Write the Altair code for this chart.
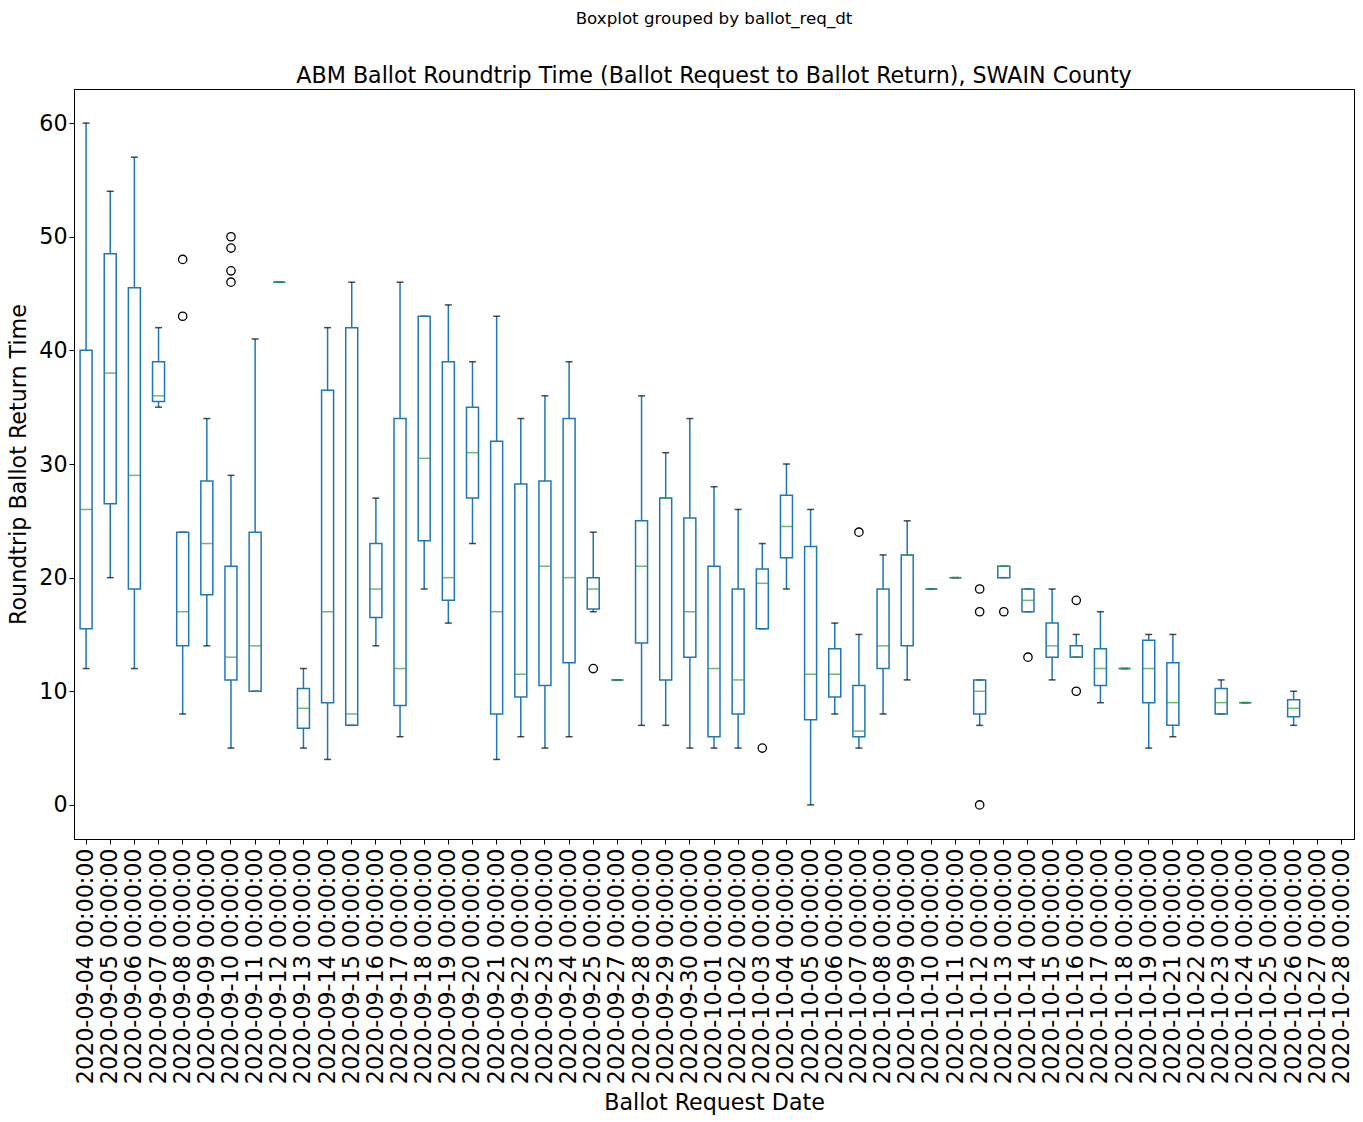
import altair as alt
import pandas as pd

dates = ["2020-09-04", "2020-09-05", "2020-09-06", "2020-09-07", "2020-09-08", "2020-09-09",
         "2020-09-10", "2020-09-11", "2020-09-12", "2020-09-13", "2020-09-14", "2020-09-15",
         "2020-09-16", "2020-09-17", "2020-09-18", "2020-09-19", "2020-09-20", "2020-09-21",
         "2020-09-22", "2020-09-23", "2020-09-24", "2020-09-25", "2020-09-27", "2020-09-28",
         "2020-09-29", "2020-09-30", "2020-10-01", "2020-10-02", "2020-10-03", "2020-10-04",
         "2020-10-05", "2020-10-06", "2020-10-07", "2020-10-08", "2020-10-09", "2020-10-10",
         "2020-10-11", "2020-10-12", "2020-10-13", "2020-10-14", "2020-10-15", "2020-10-16",
         "2020-10-17", "2020-10-18", "2020-10-19", "2020-10-21", "2020-10-22", "2020-10-23",
         "2020-10-24", "2020-10-25", "2020-10-26", "2020-10-27", "2020-10-28"]

whislo = [12, 20, 12, 35, 8, 14, 5, 10, 46, 5, 4, 7, 14, 6, 19, 16, 23, 4, 6, 5, 6, 17, 11, 7,
          7, 5, 5, 5, 15.5, 19, 0, 8, 5, 8, 11, 19, 20, 7, 20, 17, 11, 13, 9, 12, 5, 6, None, 8,
          9, None, 7, None, None]
q1 = [15.5, 26.5, 19, 35.5, 14, 18.5, 11, 10, 46, 6.75, 9, 7, 16.5, 8.75, 23.25, 18, 27, 8, 9.5,
      10.5, 12.5, 17.25, 11, 14.25, 11, 13, 6, 8, 15.5, 21.75, 7.5, 9.5, 6, 12, 14, 19, 20, 8,
      20, 17, 13, 13, 10.5, 12, 9, 7, None, 8, 9, None, 7.75, None, None]
med = [26, 38, 29, 36, 17, 23, 13, 14, 46, 8.5, 17, 8, 19, 12, 30.5, 20, 31, 17, 11.5, 21, 20,
       19, 11, 21, 27, 17, 12, 11, 19.5, 24.5, 11.5, 11.5, 6.5, 14, 22, 19, 20, 10, 21, 18, 14,
       13, 12, 12, 12, 9, None, 9, 9, None, 8.5, None, None]
q3 = [40, 48.5, 45.5, 39, 24, 28.5, 21, 24, 46, 10.25, 36.5, 42, 23, 34, 43, 39, 35, 32, 28.25,
      28.5, 34, 20, 11, 25, 27, 25.25, 21, 19, 20.75, 27.25, 22.75, 13.75, 10.5, 19, 22, 19, 20,
      11, 21, 19, 16, 14, 13.75, 12, 14.5, 12.5, None, 10.25, 9, None, 9.25, None, None]
whishi = [60, 54, 57, 42, 24, 34, 29, 41, 46, 12, 42, 46, 27, 46, 43, 44, 39, 43, 34, 36, 39,
          24, 11, 36, 31, 34, 28, 26, 23, 30, 26, 16, 15, 22, 25, 19, 20, 11, 21, 19, 19, 15,
          17, 12, 15, 15, None, 11, 9, None, 10, None, None]

out_dates = ["2020-09-08", "2020-09-08", "2020-09-10", "2020-09-10", "2020-09-10", "2020-09-10",
             "2020-09-25", "2020-10-03", "2020-10-07", "2020-10-12", "2020-10-12", "2020-10-12",
             "2020-10-13", "2020-10-14", "2020-10-16", "2020-10-16"]
out_vals = [43, 48, 46, 47, 49, 50, 12, 5, 24, 0, 17, 19, 17, 13, 10, 18]

BLUE = "#1f77b4"
GREEN = "#2ca02c"
FONT = "DejaVu Sans"
YTITLE = "Roundtrip Ballot Return Time"

labels = [d + " 00:00:00" for d in dates]
rows = []
for lab, lo, a, m, b, hi in zip(labels, whislo, q1, med, q3, whishi):
    if m is None:
        continue
    rows.append({"date": lab, "lo": lo, "q1": a, "med": m, "q3": b, "hi": hi})
df = pd.DataFrame(rows)
outdf = pd.DataFrame({"date": [d + " 00:00:00" for d in out_dates], "val": out_vals})

xenc = alt.X("date:O", sort=labels,
             scale=alt.Scale(domain=labels, paddingInner=0, paddingOuter=0),
             axis=alt.Axis(title="Ballot Request Date", labelAngle=-90, labelPadding=4,
                           titlePadding=52))
yscale = alt.Scale(domain=[-3, 63], nice=False, zero=False)
yaxis = alt.Axis(values=[0, 10, 20, 30, 40, 50, 60], title=YTITLE, titlePadding=8)


def Y(field):
    return alt.Y(field, scale=yscale, axis=yaxis, title=YTITLE)


def Y2(field):
    return alt.Y2(field, title=YTITLE)


base = alt.Chart(df).encode(x=xenc)

wlo = base.mark_rule(color=BLUE, strokeWidth=1.5).encode(y=Y("lo:Q"), y2=Y2("q1:Q"))
whi = base.mark_rule(color=BLUE, strokeWidth=1.5).encode(y=Y("q3:Q"), y2=Y2("hi:Q"))
clo = base.mark_tick(color="black", size=7, thickness=1.5).encode(y=Y("lo:Q"))
chi = base.mark_tick(color="black", size=7, thickness=1.5).encode(y=Y("hi:Q"))
box = base.mark_bar(width=12, fillOpacity=0, stroke=BLUE, strokeWidth=1.5).encode(
    y=Y("q1:Q"), y2=Y2("q3:Q"))
medm = base.mark_tick(color=GREEN, size=12, thickness=1.5).encode(y=Y("med:Q"))
fliers = alt.Chart(outdf).mark_point(shape="circle", filled=False, color="black", size=70,
                                     strokeWidth=1.3, opacity=1).encode(x=xenc, y=Y("val:Q"))

chart = alt.layer(wlo, whi, clo, chi, box, medm, fliers).properties(
    width=1280, height=750,
    background="white",
    autosize=alt.AutoSizeParams(type="none"),
    padding={"left": 74, "top": 89, "right": 9, "bottom": 283},
    title=alt.TitleParams(
        text="Boxplot grouped by ballot_req_dt",
        subtitle="ABM Ballot Roundtrip Time (Ballot Request to Ballot Return), SWAIN County",
        font=FONT, subtitleFont=FONT, fontSize=16.7, subtitleFontSize=22.2,
        fontWeight="normal", color="black", subtitleColor="black",
        anchor="middle", subtitlePadding=37, offset=2),
).configure_view(stroke="black", strokeWidth=1).configure_axis(
    labelFont=FONT, titleFont=FONT, labelFontSize=22.2, titleFontSize=22.2,
    labelColor="black", titleColor="black", titleFontWeight="normal",
    tickColor="black", domainColor="black", tickSize=5, grid=False, tickWidth=1,
    domainWidth=1, labelLimit=400,
)

chart.save("out.html", embed_options={"renderer": "svg", "actions": False})
